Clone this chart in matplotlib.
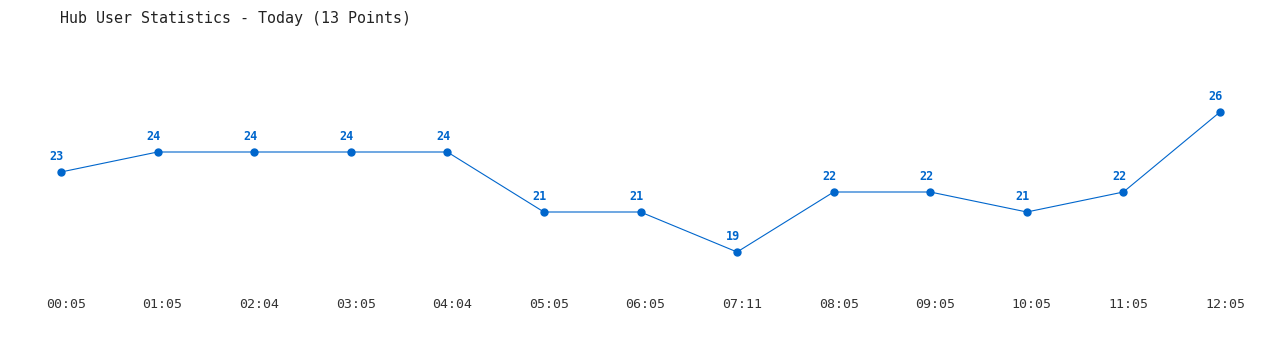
import matplotlib
matplotlib.use("Agg")
import matplotlib.pyplot as plt
import matplotlib.transforms as mtransforms

# data
times = ["00:05", "01:05", "02:04", "03:05", "04:04", "05:05", "06:05",
         "07:11", "08:05", "09:05", "10:05", "11:05", "12:05"]
users = [23, 24, 24, 24, 24, 21, 21, 19, 22, 22, 21, 22, 26]
title = "Hub User Statistics - Today (13 Points)"

blue = "#0066CC"
W, H = 1280, 350

fig = plt.figure(figsize=(W / 100, H / 100), dpi=100)
# axes box: x from first to last point, y from 19 to 26
ax = fig.add_axes([61 / W, (H - 252) / H, (1220 - 61) / W, (252 - 112) / H])

x = list(range(len(times)))
ax.plot(x, users, color=blue, linewidth=0.8, marker="o", markersize=5,
        clip_on=False)
for xi, v in zip(x, users):
    ax.annotate(str(v), (xi, v), xytext=(-3, 6.5), textcoords="offset points",
                ha="center", va="bottom", color=blue, fontsize=8.5,
                fontweight="bold", family="DejaVu Sans Mono")

ax.set_xlim(0, len(times) - 1)
ax.set_ylim(19, 26)
ax.set_xticks(x)
ax.set_xticklabels(times, family="DejaVu Sans Mono", fontsize=9.5, color="#333333")
ax.tick_params(axis="x", length=0, pad=33)
# labels sit a few pixels right of their points in the original
shift = mtransforms.ScaledTranslation(5 / 100, 0, fig.dpi_scale_trans)
for lab in ax.get_xticklabels():
    lab.set_transform(lab.get_transform() + shift)
ax.set_yticks([])
for s in ax.spines.values():
    s.set_visible(False)

fig.text(60 / W, 1 - 18 / H, title, family="DejaVu Sans Mono", fontsize=10.8,
         color="#222222", va="center", ha="left")

fig.savefig("out.png", dpi=100)
